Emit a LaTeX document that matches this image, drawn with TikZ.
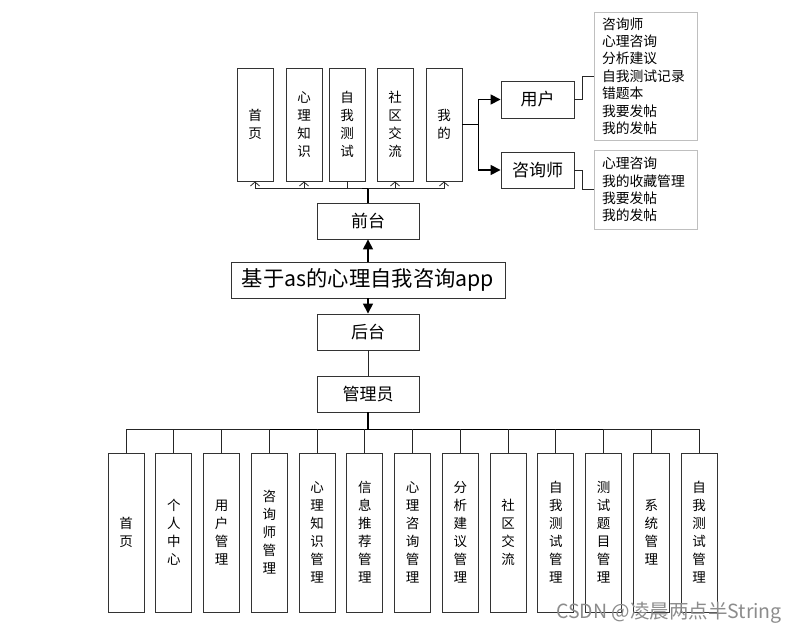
\documentclass[tikz,border=0pt]{standalone}
\usepackage{fontspec}
\setmainfont{Noto Sans CJK SC}
\usetikzlibrary{arrows.meta}
\begin{document}
\begin{tikzpicture}[x=1pt,y=-1pt,
  box/.style={draw=black!80,line width=0.9pt,fill=white,inner sep=0pt,align=center},
  vbox/.style={box,minimum width=36pt,font=\fontsize{13.5}{18}\selectfont},
  topbox/.style={vbox,minimum height=113pt},
  botbox/.style={vbox,minimum height=159pt},
  hbox/.style={box,minimum width=102pt,minimum height=36pt,font=\fontsize{17}{20}\selectfont},
  rbox/.style={box,minimum width=73pt,minimum height=36pt,font=\fontsize{17}{20}\selectfont},
  lst/.style={draw=black!25,line width=0.8pt,fill=white,align=left,inner xsep=8pt,inner ysep=0pt,text width=87pt,font=\fontsize{13.8}{17.4}\selectfont},
  conn/.style={draw=black!85,line width=0.8pt},
  thickc/.style={draw=black,line width=1.6pt},
  bigtip/.style={-{Triangle[length=10pt,width=10pt]}},
  smalltip/.style={-{Straight Barb[length=4pt,width=9pt]}}]
\useasboundingbox (0,0) rectangle (796,634);
% top row
\node[topbox] (t1) at (255,124.5) {首\\页};
\node[topbox] (t2) at (304,124.5) {心\\理\\知\\识};
\node[topbox] (t3) at (347,124.5) {自\\我\\测\\试};
\node[topbox] (t4) at (395,124.5) {社\\区\\交\\流};
\node[topbox] (t5) at (444,124.5) {我\\的};
% centre column
\node[hbox] (qt) at (368,221) {前台};
\node[box,minimum width=274pt,minimum height=36pt,font=\fontsize{21.3}{24}\selectfont] (title) at (368,280) {基于as的心理自我咨询app};
\node[hbox] (ht) at (368,332) {后台};
\node[hbox] (gly) at (368,394) {管理员};
% right side
\node[rbox,minimum height=37pt] (yh) at (537.5,99.5) {用户};
\node[rbox] (zx) at (537.5,170) {咨询师};
\node[lst,minimum height=128pt] (l1) at (645.5,76) {咨询师\\心理咨询\\分析建议\\自我测试记录\\错题本\\我要发帖\\我的发帖};
\node[lst,minimum height=79pt] (l2) at (645.5,189.5) {心理咨询\\我的收藏管理\\我要发帖\\我的发帖};
% bottom row
\foreach \i/\t in {0/{首\\页},1/{个\\人\\中\\心},2/{用\\户\\管\\理},3/{咨\\询\\师\\管\\理},4/{心\\理\\知\\识\\管\\理},5/{信\\息\\推\\荐\\管\\理},6/{心\\理\\咨\\询\\管\\理},7/{分\\析\\建\\议\\管\\理},8/{社\\区\\交\\流},9/{自\\我\\测\\试\\管\\理},10/{测\\试\\题\\目\\管\\理},11/{系\\统\\管\\理},12/{自\\我\\测\\试\\管\\理}}{
  \node[botbox] (b\i) at ({126+47.75*\i},532.5) {\t};
}
% top connectors
\draw[thickc] (qt.north) -- ++(0,-14) coordinate (tj);
\draw[conn] (t1.south |- tj) -- (t5.south |- tj);
\draw[thickc] (qt.north |- tj) -- ++(-6,0);
\foreach \n in {t1,t2,t4,t5}{
  \draw[conn,smalltip] (\n.south |- tj) -- (\n.south);
}
\draw[conn] (t3.south |- tj) -- (t3.south);
% centre arrows
\draw[thickc,bigtip] (title.north) -- (qt.south);
\draw[thickc,bigtip] (title.south) -- (ht.north);
\draw[conn] (ht.south) -- (gly.north);
% bottom connectors
\draw[thickc] (gly.south) -- ++(0,17) coordinate (bj);
\draw[conn] (b0.north |- bj) -- (b12.north |- bj);
\draw[thickc] (b3.north |- bj) -- (b10.north |- bj);
\foreach \i in {0,...,12}{
  \draw[conn] (b\i.north |- bj) -- (b\i.north);
}
% right connectors
\draw[thickc] (t5.east) -- ++(16,0) coordinate (rj);
\draw[thickc] (rj |- yh.west) -- (rj |- zx.west);
\draw[thickc,bigtip] (rj |- yh.west) -- (yh.west);
\draw[thickc,bigtip] (rj |- zx.west) -- (zx.west);
\draw[conn] (yh.east) -- ++(8,0) |- (l1.west);
\draw[conn] (zx.east) -- ++(8,0) |- (l2.west);
% watermark
\node[text=black!45,font=\fontsize{19.5}{22}\selectfont] (wm) at (669,613) {CSDN @凌晨两点半String};
\end{tikzpicture}
\end{document}
